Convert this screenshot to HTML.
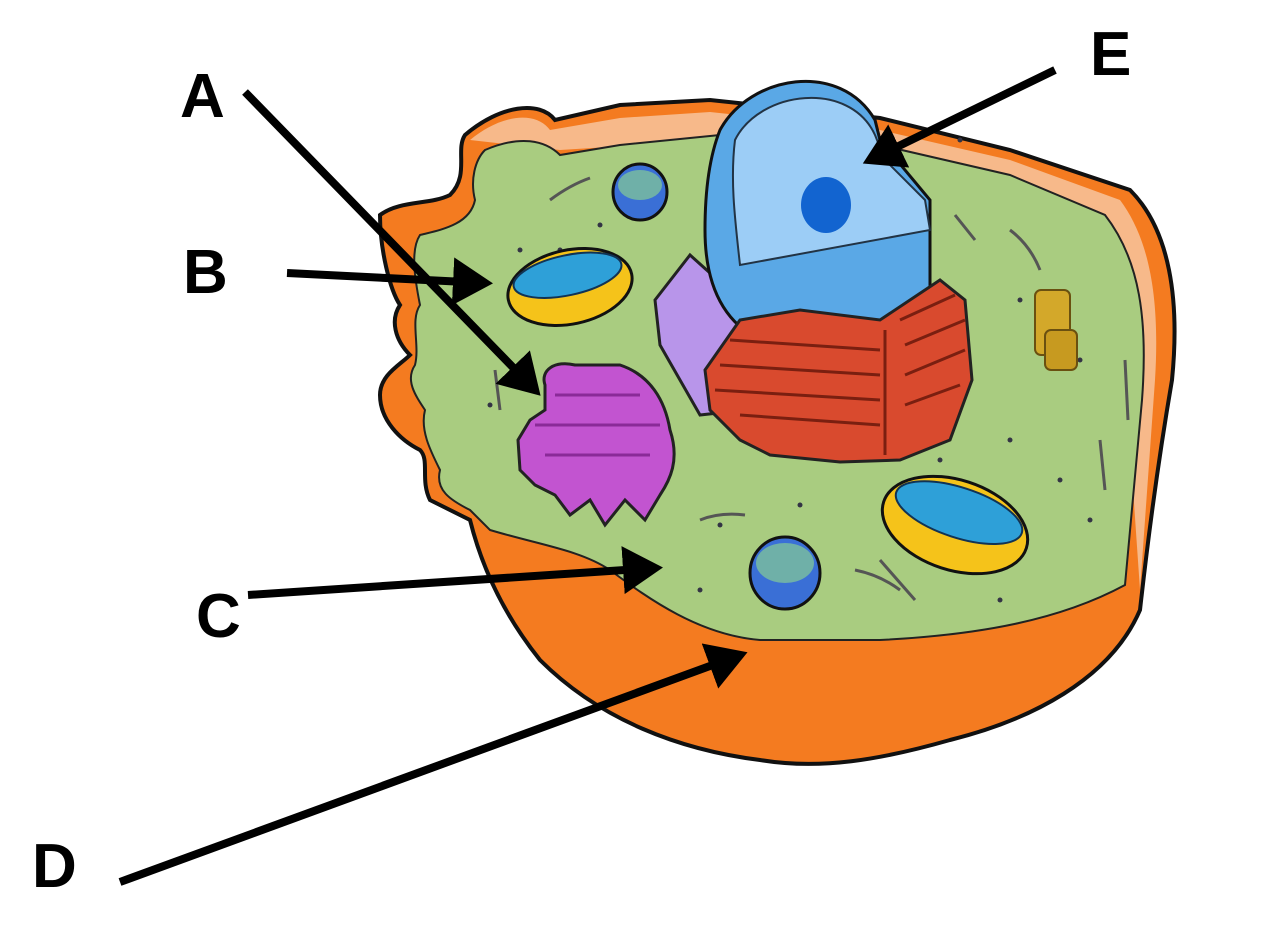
<!DOCTYPE html>
<html><head><meta charset="utf-8"><style>
html,body{margin:0;padding:0;background:#fff;}
svg{display:block}
text{font-family:"Liberation Sans",sans-serif;font-weight:bold;font-size:62px;fill:#000}
</style></head><body>
<svg width="1281" height="925" viewBox="0 0 1281 925" xmlns="http://www.w3.org/2000/svg">
<defs>
<marker id="ah" markerWidth="6" markerHeight="6" refX="4" refY="3" orient="auto" markerUnits="strokeWidth">
<path d="M0,0 L5,3 L0,6 Z" fill="#000"/></marker>
</defs>
<!-- outer orange body -->
<path d="M465,135 C500,105 540,100 555,120 L620,105 L710,100 L880,118 L1010,150 L1130,190 C1170,230 1180,300 1172,380 C1160,450 1150,520 1140,610 C1110,680 1030,720 950,740 C880,760 820,770 760,760 C680,750 600,720 540,660 C500,610 480,560 470,520 L430,500 C420,480 430,460 420,450 C400,440 380,420 380,395 C380,375 400,365 410,355 C395,340 390,320 400,305 C390,290 380,250 380,215 C400,200 430,205 450,195 C470,175 455,150 465,135 Z" fill="#f47b20" stroke="#111" stroke-width="4"/>
<!-- peach rim -->
<path d="M470,140 C500,115 535,110 550,130 L620,118 L710,112 L880,130 L1010,160 L1120,200 C1150,240 1160,300 1155,380 L1140,590 L1120,300 C1110,240 1080,210 1010,180 L880,150 L720,140 L560,150 Z" fill="#f7b98a"/>
<!-- green top -->
<path d="M485,150 C520,135 545,140 560,155 L620,145 L720,135 L880,145 L1010,175 L1105,215 C1140,260 1148,320 1142,400 L1125,585 C1060,620 980,635 880,640 L760,640 C700,635 650,600 610,570 C580,550 540,545 490,530 L470,510 C450,500 435,490 440,470 C430,450 420,430 425,410 C415,395 405,380 415,365 C420,345 410,320 420,305 C415,280 410,250 420,235 C440,230 470,225 475,200 C470,180 475,160 485,150 Z" fill="#a9cc80" stroke="#222" stroke-width="2"/>
<!-- dots -->
<g fill="#334">
<circle cx="600" cy="225" r="2.5"/><circle cx="520" cy="250" r="2.5"/><circle cx="490" cy="405" r="2.5"/><circle cx="660" cy="430" r="2.5"/><circle cx="720" cy="525" r="2.5"/><circle cx="800" cy="505" r="2.5"/><circle cx="1020" cy="300" r="2.5"/><circle cx="1080" cy="360" r="2.5"/><circle cx="1010" cy="440" r="2.5"/><circle cx="1060" cy="480" r="2.5"/><circle cx="1090" cy="520" r="2.5"/><circle cx="940" cy="460" r="2.5"/><circle cx="700" cy="590" r="2.5"/><circle cx="1000" cy="600" r="2.5"/><circle cx="960" cy="140" r="2.5"/><circle cx="560" cy="250" r="2.5"/>
</g>
<g stroke="#555" stroke-width="3" fill="none">
<path d="M550,200 Q570,185 590,178"/><path d="M955,215 L975,240"/><path d="M1010,230 Q1030,245 1040,270"/><path d="M1125,360 L1128,420"/><path d="M1100,440 L1105,490"/><path d="M700,520 Q720,512 745,515"/><path d="M855,570 Q880,575 900,590"/><path d="M880,560 L915,600"/><path d="M495,370 L500,410"/>
</g>
<!-- vesicles -->
<ellipse cx="640" cy="192" rx="27" ry="28" fill="#3a6fd6" stroke="#111" stroke-width="3"/>
<ellipse cx="640" cy="185" rx="22" ry="15" fill="#6fb0a8"/>
<ellipse cx="785" cy="573" rx="35" ry="36" fill="#3a6fd6" stroke="#111" stroke-width="3"/>
<ellipse cx="785" cy="563" rx="29" ry="20" fill="#6fb0a8"/>
<!-- mitochondria -->
<g transform="rotate(-12 570 287)">
<ellipse cx="570" cy="287" rx="63" ry="37" fill="#f5c31a" stroke="#111" stroke-width="3"/>
<ellipse cx="570" cy="275" rx="55" ry="20" fill="#2ea0d8" stroke="#135" stroke-width="2"/></g>
<g transform="rotate(18 955 525)">
<ellipse cx="955" cy="525" rx="75" ry="45" fill="#f5c31a" stroke="#111" stroke-width="3"/>
<ellipse cx="955" cy="512" rx="66" ry="25" fill="#2ea0d8" stroke="#135" stroke-width="2"/></g>
<!-- centriole -->
<rect x="1035" y="290" width="35" height="65" rx="6" fill="#d3a82a" stroke="#6a5010" stroke-width="2"/>
<rect x="1045" y="330" width="32" height="40" rx="6" fill="#c79a20" stroke="#6a5010" stroke-width="2"/>
<!-- lavender golgi-ish -->
<path d="M655,300 L690,255 L740,300 L745,410 L700,415 L680,380 L660,345 Z" fill="#b895ea" stroke="#222" stroke-width="3"/>
<!-- nucleus -->
<path d="M720,130 C750,75 840,60 875,120 L880,140 L930,200 L930,330 C900,360 820,360 760,340 C720,320 705,280 705,230 C705,190 710,155 720,130 Z" fill="#5aa8e6" stroke="#111" stroke-width="3"/>
<path d="M735,140 C760,90 850,80 875,135 L885,160 L925,200 L930,230 L740,265 C735,220 730,180 735,140 Z" fill="#9ccdf6" stroke="#234" stroke-width="2"/>
<ellipse cx="826" cy="205" rx="25" ry="28" fill="#1264d0"/>
<!-- rough ER -->
<path d="M705,370 L740,320 L800,310 L880,320 L940,280 L965,300 L972,380 L950,440 L900,460 L840,462 L770,455 L740,440 L710,410 Z" fill="#d94a2e" stroke="#222" stroke-width="3"/>
<g stroke="#7a1f10" stroke-width="3" fill="none">
<path d="M730,340 L880,350"/><path d="M720,365 L880,375"/><path d="M715,390 L880,400"/><path d="M740,415 L880,425"/><path d="M885,330 L885,455"/><path d="M900,320 L955,295"/><path d="M905,345 L965,320"/><path d="M905,375 L965,350"/><path d="M905,405 L960,385"/>
</g>
<!-- magenta golgi -->
<path d="M545,385 C540,370 555,360 575,365 L620,365 C650,375 665,400 670,430 C680,460 670,480 660,495 L645,520 L625,500 L605,525 L590,500 L570,515 L555,495 L535,485 L520,470 L518,440 L530,420 L545,410 Z" fill="#c254d0" stroke="#222" stroke-width="3"/>
<g stroke="#8a2a98" stroke-width="3" fill="none"><path d="M555,395 L640,395"/><path d="M535,425 L660,425"/><path d="M545,455 L650,455"/></g>
<!-- arrows -->
<g stroke="#000" stroke-width="8" fill="none" stroke-linecap="butt">
<line x1="245" y1="92" x2="535" y2="390" marker-end="url(#ah)"/>
<line x1="287" y1="273" x2="485" y2="283" marker-end="url(#ah)"/>
<line x1="248" y1="595" x2="655" y2="568" marker-end="url(#ah)"/>
<line x1="120" y1="882" x2="740" y2="655" marker-end="url(#ah)"/>
<line x1="1055" y1="70" x2="870" y2="160" marker-end="url(#ah)"/>
</g>
<text x="180" y="117">A</text>
<text x="183" y="293">B</text>
<text x="196" y="637">C</text>
<text x="32" y="887">D</text>
<text x="1090" y="75">E</text>
</svg>
</body></html>
